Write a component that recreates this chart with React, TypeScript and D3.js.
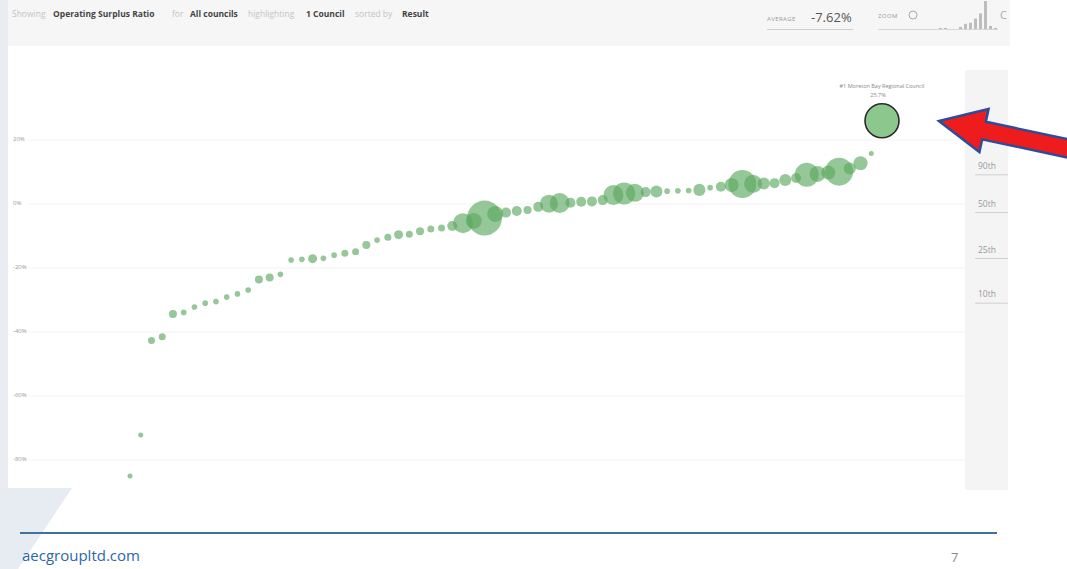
import React from "react";
import * as d3 from "d3";

// Operating surplus ratio per council (%), sorted by result
const ratioValues = [
  -85.3, -72.5, -43.0, -41.8, -34.7, -34.2, -32.5, -31.3, -30.8, -29.4,
  -28.4, -27.2, -23.9, -23.3, -22.3, -17.8, -17.6, -17.4, -17.3, -16.3,
  -15.7, -15.2, -13.1, -11.6, -10.7, -9.9, -9.8, -8.8, -8.1, -7.8,
  -7.2, -6.3, -5.6, -4.7, -3.4, -3.0, -2.5, -2.2, -1.2, -0.2,
  0.0, 0.1, 0.4, 0.5, 0.9, 2.5, 3.0, 3.2, 3.4, 3.6,
  3.7, 3.8, 3.9, 4.1, 4.8, 5.1, 5.6, 5.9, 6.0, 6.1,
  6.2, 7.2, 7.8, 8.8, 9.1, 9.5, 9.8, 10.8, 12.4, 15.5,
  25.7,
];

// Bubble size measure per council (thousands of residents)
const populationK = [
  0.6, 0.6, 5, 5, 9, 1.5, 1.5, 1.5, 1.5, 1.5,
  1.5, 1.5, 9, 9, 1.5, 1.5, 1.5, 14, 1.5, 1.5,
  5, 5, 9, 1.5, 5, 14, 5, 9, 5, 5,
  20, 142, 80, 530, 80, 20, 20, 9, 20, 109,
  142, 20, 20, 20, 20, 142, 180, 109, 20, 36,
  1.5, 1.5, 1.5, 36, 1.5, 20, 56, 320, 109, 36,
  20, 36, 20, 222, 80, 56, 320, 36, 56, 0.6,
  500,
];

const highlightIndex = 70;
const highlightName = "#1 Moreton Bay Regional Council";
const yTicks = [20, 0, -20, -40, -60, -80];
const percentileMarks = [90, 50, 25, 10];
const histThresholds = d3.range(-90, 40, 10);
const averageLabel = "-7.62%";

const headerParts = [
  { text: "Showing", bold: false, x: 12 },
  { text: "Operating Surplus Ratio", bold: true, x: 53 },
  { text: "for", bold: false, x: 172 },
  { text: "All councils", bold: true, x: 190 },
  { text: "highlighting", bold: false, x: 248 },
  { text: "1 Council", bold: true, x: 306 },
  { text: "sorted by", bold: false, x: 355 },
  { text: "Result", bold: true, x: 402 },
];

const W = 1067;
const H = 569;
const FONT = "'Open Sans', 'Noto Sans', sans-serif";

export default function App() {
  const n = ratioValues.length;
  const x = d3.scalePoint<number>().domain(d3.range(n)).range([130, 882]);
  const y = d3.scaleLinear().domain([-80, 20]).range([459, 139]);
  const r = d3.scaleSqrt().domain([0, 500]).range([2, 17]);

  const sorted = [...ratioValues].sort((a, b) => a - b);
  const pct = percentileMarks.map((p) => ({
    p,
    v: d3.quantile(sorted, p / 100) as number,
  }));

  const bins = d3.bin().domain([-90, 30]).thresholds(histThresholds)(ratioValues);
  const hx = d3.scaleLinear().domain([-90, 30]).range([938, 998]);
  const hy = d3.scaleLinear().domain([0, d3.max(bins, (b) => b.length) as number]).range([29, 1]);

  const hv = ratioValues[highlightIndex];
  const hxPos = x(highlightIndex) as number;

  return (
    <svg
      width={W}
      height={H}
      style={{ position: "fixed", left: 0, top: 0, background: "#ffffff" }}
      fontFamily={FONT}
    >
      {/* dashboard frame */}
      <rect x={0} y={0} width={1010} height={490} fill="#ffffff" />
      <rect x={0} y={0} width={1010} height={46} fill="#f6f6f6" />
      <rect x={0} y={0} width={8} height={490} fill="#e9ecf0" />
      <rect x={965} y={70} width={43} height={420} fill="#f4f4f4" />
      <polygon points="0,488 72,488 18,569 0,569" fill="#e7ecf2" />

      {/* header line */}
      {headerParts.map((h, i) => (
        <text
          key={i}
          x={h.x}
          y={17}
          fontSize={8.5}
          fontWeight={h.bold ? 700 : 400}
          fill={h.bold ? "#444" : "#c4c4c4"}
        >
          {h.text}
        </text>
      ))}

      {/* average */}
      <text x={767} y={21} fontSize={6} fill="#9a9a9a" letterSpacing={0.4}>AVERAGE</text>
      <text x={811} y={22} fontSize={13} fill="#555">{averageLabel}</text>
      <line x1={767} x2={853} y1={29.5} y2={29.5} stroke="#cfcfcf" />

      {/* zoom control */}
      <text x={878} y={18} fontSize={6} fill="#9a9a9a" letterSpacing={0.4}>ZOOM</text>
      <circle cx={913} cy={15} r={4} fill="none" stroke="#aaa" strokeWidth={1} />
      <line x1={878} x2={998} y1={29.5} y2={29.5} stroke="#d6d6d6" />
      {bins.map((b, i) =>
        b.length > 0 ? (
          <rect
            key={i}
            x={hx(b.x0 as number) + 1}
            y={hy(b.length)}
            width={3}
            height={29 - hy(b.length)}
            fill="#bdbdbd"
          />
        ) : null
      )}
      <text x={1000} y={19} fontSize={11} fill="#aaa">C</text>

      {/* grid and y axis */}
      {yTicks.map((t) => (
        <g key={t}>
          <line x1={28} x2={965} y1={y(t) + 1} y2={y(t) + 1} stroke="#f3f3f3" />
          <text x={13} y={y(t) + 2} fontSize={6} fill="#999">{`${t}%`}</text>
        </g>
      ))}

      {/* percentile markers */}
      {pct.map((d) => (
        <g key={d.p}>
          <text x={978} y={y(d.v) - 6} fontSize={8.5} fill="#9a9a9a">{`${d.p}th`}</text>
          <line x1={975} x2={1008} y1={y(d.v)} y2={y(d.v)} stroke="#d0d0d0" />
        </g>
      ))}

      {/* councils */}
      {ratioValues.map((v, i) =>
        i === highlightIndex ? null : (
          <circle
            key={i}
            cx={x(i) as number}
            cy={y(v)}
            r={r(populationK[i])}
            fill="#5aa85e"
            fillOpacity={0.64}
          />
        )
      )}
      <circle
        cx={hxPos}
        cy={y(hv)}
        r={r(populationK[highlightIndex])}
        fill="#8cc88d"
        stroke="#2a2a2a"
        strokeWidth={1.6}
      />
      <text x={hxPos} y={88} fontSize={5.5} fill="#888" textAnchor="middle">
        {highlightName}
      </text>
      <text x={hxPos - 4} y={97} fontSize={5.5} fill="#888" textAnchor="middle">
        {`${hv.toFixed(1)}%`}
      </text>

      {/* pointer arrow */}
      <g transform="translate(939,121) rotate(12)">
        <polygon
          points="0,0 46,-22 46,-9 140,-9 140,9 46,9 46,22"
          fill="#ee1c1c"
          stroke="#2c4c9c"
          strokeWidth={2.5}
          strokeLinejoin="miter"
        />
      </g>

      {/* footer */}
      <line x1={20} x2={997} y1={533} y2={533} stroke="#4470a0" strokeWidth={2} />
      <text x={22} y={561} fontSize={15} fill="#2e67a6">aecgroupltd.com</text>
      <text x={951} y={562} fontSize={13} fill="#8a8a8a">7</text>
    </svg>
  );
}
